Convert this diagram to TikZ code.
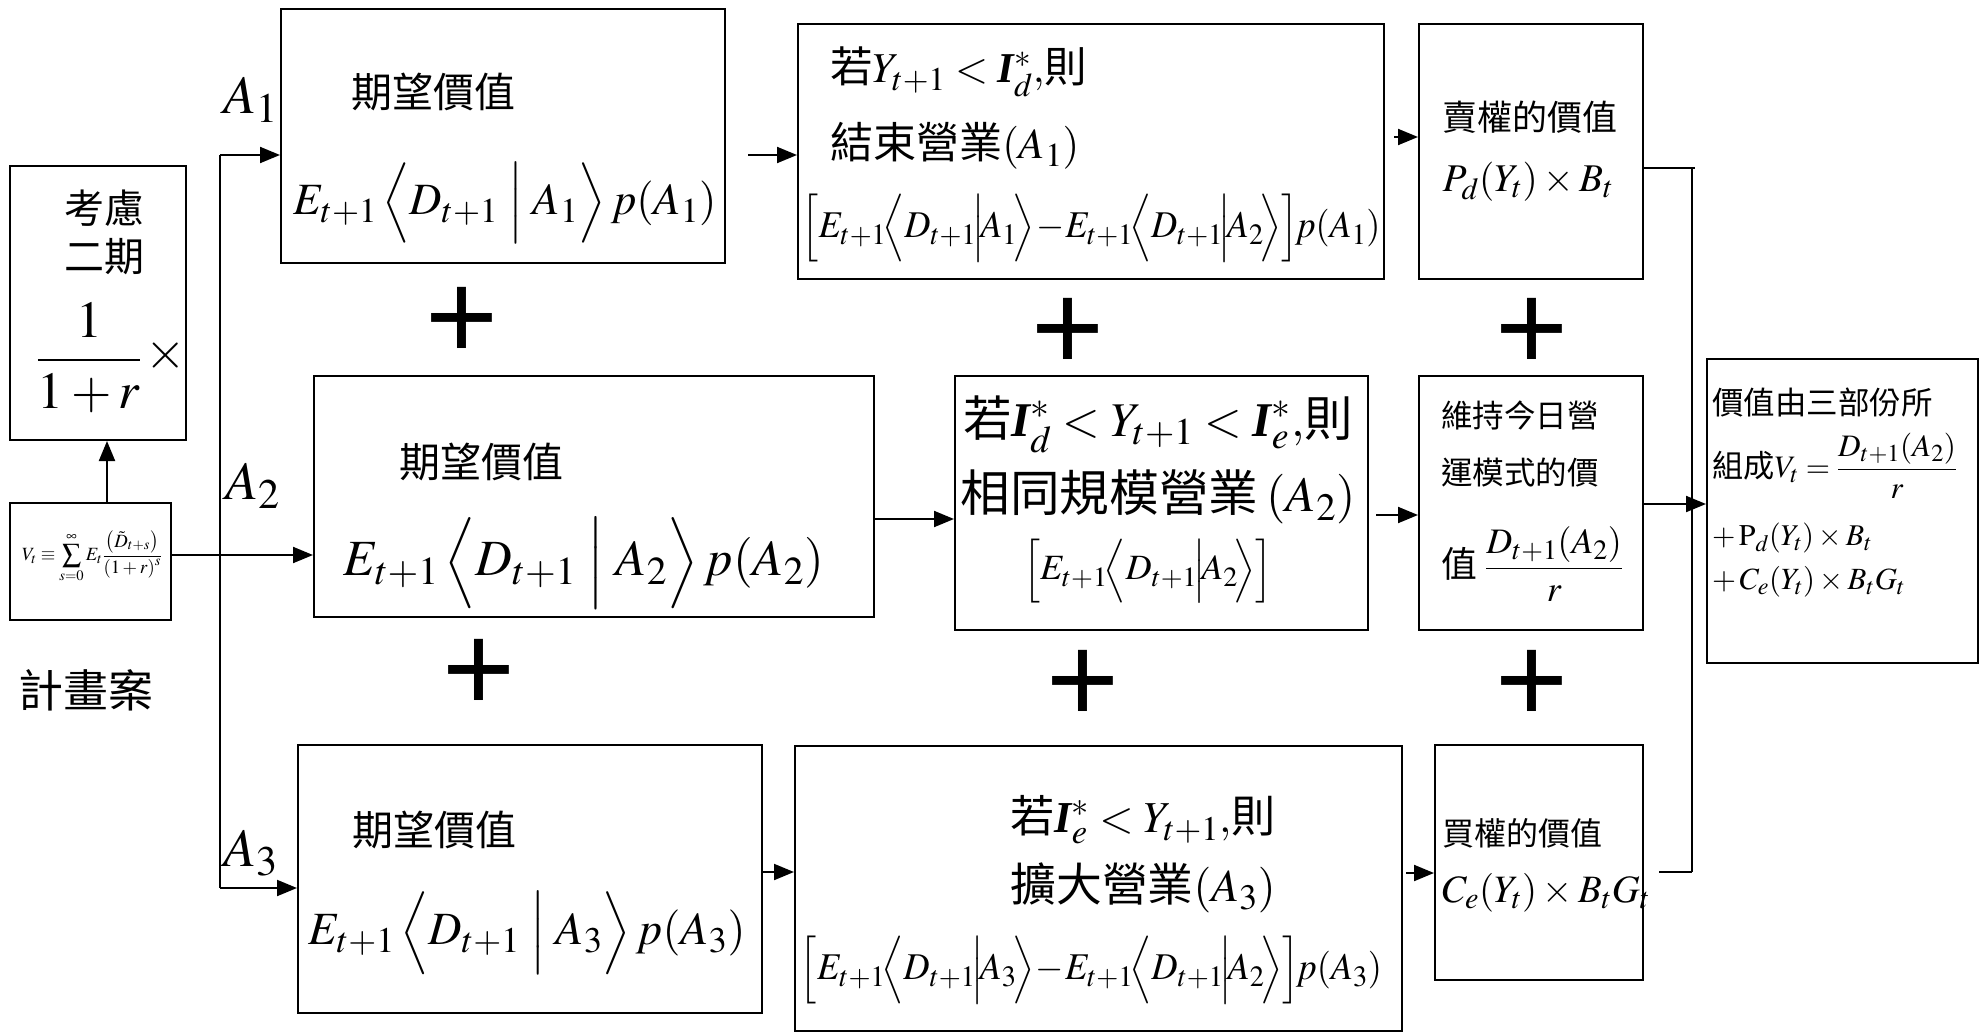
\documentclass[tikz,border=0pt]{standalone}
\usepackage{mathptmx}
\usepackage{amsmath}
\usepackage[no-math]{fontspec}
\setmainfont{Noto Sans CJK TC}
\newfontfamily\tnr{Liberation Serif}
\newfontfamily\arialf{Liberation Sans}
\usetikzlibrary{arrows.meta}
\renewcommand{\defaultscriptratio}{.78}
\newcommand{\fs}[1]{\fontsize{#1}{#1}\selectfont}
\newcommand{\fw}[2]{\resizebox{#1pt}{!}{#2}}
\newcommand{\fwh}[3]{\resizebox*{#1pt}{#2pt}{#3}}
\newcommand{\bI}{\mbox{\tnr\bfseries\itshape I}}
\newcommand{\EDA}[1]{E_{t+1}\,\Bigl\langle D_{t+1}\;\Big|\;A_{#1}\Bigr\rangle}
\newcommand{\EDB}[1]{E_{t+1}\!\Bigl\langle D_{t+1}\!\Big|\!A_{#1}\!\Bigr\rangle}
\tikzset{
  box/.style={draw, line width=2pt, inner sep=0pt},
  t/.style={inner sep=0pt},
  tl/.style={inner sep=0pt, anchor=west},
  plusmark/.style={inner sep=0pt, font={\arialf\fs{125}}},
  arr/.style={line width=2pt, -{Triangle[length=20pt,width=16pt]}},
  ln/.style={line width=2pt}
}
\begin{document}
\begin{tikzpicture}[x=1pt,y=-1pt]
\path[fill=white,use as bounding box] (0,0) rectangle (1986,1033);

% boxes
\node[box, minimum width=176pt, minimum height=274pt] (K) at (98,303) {};
\node[box, minimum width=161pt, minimum height=117pt] (V) at (90.5,561.5) {};
\node[box, minimum width=444pt, minimum height=254pt] (E1) at (503,136) {};
\node[box, minimum width=586pt, minimum height=255pt] (C1) at (1091,151.5) {};
\node[box, minimum width=224pt, minimum height=255pt] (P) at (1531,151.5) {};
\node[box, minimum width=560pt, minimum height=241pt] (E2) at (594,496.5) {};
\node[box, minimum width=413pt, minimum height=254pt] (C2) at (1161.5,503) {};
\node[box, minimum width=224pt, minimum height=254pt] (KP) at (1531,503) {};
\node[box, minimum width=464pt, minimum height=268pt] (E3) at (530,879) {};
\node[box, minimum width=607pt, minimum height=285pt] (C3) at (1098.5,888) {};
\node[box, minimum width=208pt, minimum height=235pt] (CL) at (1539,862.5) {};
\node[box, minimum width=271pt, minimum height=304pt] (R) at (1842.5,511) {};

% left column texts
\node[t] (Kt1) at (104,208) {\fs{40}考慮};
\node[t] (Kt2) at (104,257) {\fs{40}二期};
\node[t] (Kfr) at (89,358) {\fs{52}$\displaystyle\frac{1}{1+r}$};
\node[t] (Kx) at (166,355) {\fs{52}$\times$};
\node[t] (Vf) at (92,557) {\fw{140}{\fs{20}$\displaystyle V_t\equiv\sum_{s=0}^{\infty}E_t\frac{\left(\tilde D_{t+s}\right)}{\left(1+r\right)^s}$}};
\node[t] (plan) at (86,690) {\fs{45}計畫案};

\node[t] (A1l) at (251,100) {\fs{54}$A_1$};
\node[t] (A2l) at (253,486) {\fs{54}$A_2$};
\node[t] (A3l) at (251,853) {\fs{54}$A_3$};

% E boxes
\node[tl] (E1t) at (351,92) {\fs{41}期望價值};
\node[t] (E1f) at (505,203) {\fw{423}{\fs{36}$\EDA{1}\,p(A_1)$}};
\node[tl] (E2t) at (399,462) {\fs{41}期望價值};
\node[t] (E2f) at (584,563) {\fw{480}{\fs{36}$\EDA{2}\,p(A_2)$}};
\node[tl] (E3t) at (352,830) {\fs{41}期望價值};
\node[t] (E3f) at (527,933) {\fw{437}{\fs{36}$\EDA{3}\,p(A_3)$}};

% condition boxes
\node[tl] (C1a) at (830,72) {\fw{257}{\fs{44}若$Y_{t+1}<\bI^{*}_{d},$則}};
\node[tl] (C1b) at (830,146) {\fw{249}{\fs{44}結束營業$(A_1)$}};
\node[t] (C1c) at (1091,228) {\fwh{579}{68}{\fs{36}$\Bigl[\EDB{1}\!-\!\EDB{2}\Bigr]\!p(A_1)$}};

\node[t] (C2a) at (1158,424) {\fw{390}{\fs{46}若$\bI^{*}_{d}<Y_{t+1}<\bI^{*}_{e},$則}};
\node[t] (C2b) at (1158,497) {\fw{395}{\fs{46}相同規模營業\,$(A_2)$}};
\node[t] (C2c) at (1148,571) {\fwh{250}{64}{\fs{36}$\Bigl[\EDB{2}\Bigr]$}};

\node[t] (C3a) at (1143,820) {\fw{265}{\fs{46}若$\bI^{*}_{e}<Y_{t+1},$則}};
\node[t] (C3b) at (1143,888) {\fw{265}{\fs{46}擴大營業$(A_3)$}};
\node[t] (C3c) at (1091,970) {\fwh{582}{68}{\fs{36}$\Bigl[\EDB{3}\!-\!\EDB{2}\Bigr]\!p(A_3)$}};

% value boxes
\node[t] (Pt) at (1530,117) {\fs{35}賣權的價值};
\node[t] (Pf) at (1528,182) {\fw{171}{\fs{36}$P_d(Y_t)\times B_t$}};

\node[tl] (KPa) at (1441,415) {\fs{31.5}維持今日營};
\node[tl] (KPb) at (1441,473) {\fs{31.5}運模式的價};
\node[tl] (KPc) at (1441,564) {\fw{182}{\fs{31.5}值 $\displaystyle\frac{D_{t+1}(A_2)}{r}$}};

\node[tl] (CLt) at (1442,833) {\fs{32}買權的價值};
\node[tl] (CLf) at (1442,893) {\fw{208}{\fs{36}$C_e(Y_t)\times B_tG_t$}};

\node[tl] (Ra) at (1712,403) {\fs{31.5}價值由三部份所};
\node[tl] (Rb) at (1712,466) {\fw{245}{\fs{31.5}組成$V_t=\displaystyle\frac{D_{t+1}(A_2)}{r}$}};
\node[tl] (Rc) at (1712,538) {\fw{160}{\fs{31.5}$+\,\mathrm{P}_d(Y_t)\times B_t$}};
\node[tl] (Rd) at (1712,582) {\fw{193}{\fs{31.5}$+\,C_e(Y_t)\times B_tG_t$}};

% plus signs
\node[plusmark] (pl1) at (462,323) {+};
\node[plusmark] (pl2) at (1068,334) {+};
\node[plusmark] (pl3) at (1532,334) {+};
\node[plusmark] (pl4) at (479,675) {+};
\node[plusmark] (pl5) at (1083,686) {+};
\node[plusmark] (pl6) at (1532,686) {+};

% connectors
\coordinate (tt) at (220,155);
\coordinate (tb) at (220,888);
\draw[arr] (V.north -| 107,0) -- (K.south -| 107,0);
\draw[ln] (tt) -- (tb);
\draw[arr] (tt) -- (E1.west |- tt);
\draw[arr] (tb) -- (E3.west |- tb);
\draw[arr] (V.east |- 0,555) -- (E2.west |- 0,555);

\draw[arr] ([xshift=22pt]E1.east |- tt) -- (C1.west |- tt);
\draw[arr] ([xshift=9pt]C1.east |- 0,137) -- (P.west |- 0,137);
\draw[arr] (E2.east |- 0,519) -- (C2.west |- 0,519);
\draw[arr] ([xshift=7pt]C2.east |- 0,515) -- (KP.west |- 0,515);
\draw[arr] (E3.east |- 0,872) -- (C3.west |- 0,872);
\draw[arr] ([xshift=3pt]C3.east |- 0,873) -- (CL.west |- 0,873);

\coordinate (rt) at (1692,168);
\coordinate (rb) at (1692,872);
\draw[ln] (P.east |- rt) -- ([xshift=3pt]rt);
\draw[ln] (rt) -- (rb);
\draw[ln] ([xshift=15pt]CL.east |- rb) -- (rb);
\draw[arr] (KP.east |- 0,504) -- (R.west |- 0,504);
\end{tikzpicture}
\end{document}
